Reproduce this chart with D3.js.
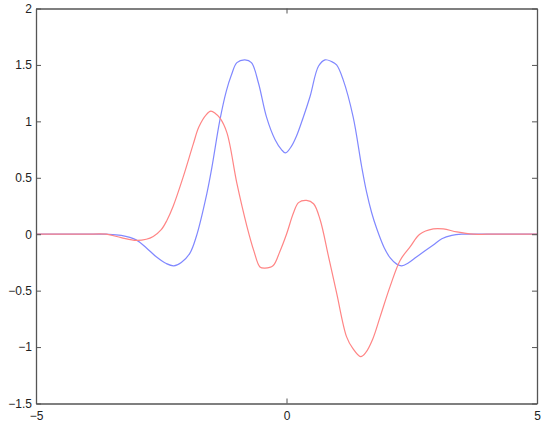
<!DOCTYPE html>
<html>
<head>
<meta charset="utf-8">
<script src="https://cdn.jsdelivr.net/npm/d3@7"></script>
<style>
  body { margin: 0; background: #fff; }
  text { font-family: "Liberation Sans", Arial, sans-serif; font-size: 12px; fill: #222; }
</style>
</head>
<body>
<svg id="chart" width="554" height="424"></svg>
<script>
var width = 554;
var height = 424;

// plot box in pixels (names avoid window.top etc.)
var boxLeft = 36, boxRight = 537, boxTop = 8.5, boxBottom = 403.5;

var xTicks = [-5, 0, 5];
var yTicks = [-1.5, -1, -0.5, 0, 0.5, 1, 1.5, 2];

// blue curve
var blueX = [-5, -4.5, -4, -3.6, -3.3, -3.0, -2.8, -2.6, -2.4, -2.25, -2.1, -1.93, -1.8, -1.59, -1.49, -1.33, -1.2, -1.1,
             -0.99, -0.83, -0.7, -0.56, -0.4, -0.23, -0.1, -0.02, 0.1, 0.2, 0.33, 0.47, 0.64, 0.77, 0.9, 1.0,
             1.13, 1.33, 1.5, 1.6, 1.7, 1.8, 1.95, 2.07, 2.2, 2.3, 2.43, 2.6, 2.93, 3.1, 3.3, 3.5, 4, 4.5, 5];
var blueY = [0, 0, 0, 0, -0.01, -0.05, -0.12, -0.2, -0.26, -0.28, -0.25, -0.17, -0.02, 0.36, 0.59, 1.01, 1.27, 1.41,
             1.52, 1.545, 1.52, 1.34, 1.04, 0.84, 0.75, 0.72, 0.78, 0.87, 1.03, 1.22, 1.49, 1.545, 1.53, 1.5,
             1.37, 1.04, 0.6, 0.37, 0.19, 0.05, -0.12, -0.21, -0.265, -0.28, -0.255, -0.2, -0.095, -0.04, -0.01, 0, 0, 0, 0];

// red curve
var redX = [-5, -4.5, -4, -3.6, -3.3, -3.0, -2.8, -2.66, -2.5, -2.39, -2.26, -2.06, -1.86, -1.75, -1.6, -1.51, -1.42, -1.33,
            -1.19, -0.99, -0.79, -0.65, -0.53, -0.43, -0.27, -0.13, 0.0, 0.14, 0.24, 0.4, 0.54, 0.67, 0.84, 1.0,
            1.2, 1.32, 1.48, 1.58, 1.72, 1.87, 2.07, 2.27, 2.47, 2.66, 2.93, 3.13, 3.4, 3.73, 4, 4.5, 5];
var redY = [0, 0, 0, 0, -0.03, -0.055, -0.045, -0.02, 0.04, 0.12, 0.25, 0.51, 0.8, 0.95, 1.06, 1.09, 1.07, 1.03,
            0.9, 0.45, 0.07, -0.15, -0.29, -0.3, -0.28, -0.15, 0.0, 0.19, 0.28, 0.3, 0.27, 0.13, -0.2, -0.52,
            -0.91, -1.01, -1.085, -1.05, -0.93, -0.73, -0.46, -0.23, -0.11, 0.0, 0.047, 0.047, 0.02, 0, 0, 0, 0];

var svg = d3.select("#chart");

var xScale = d3.scaleLinear().domain([-5, 5]).range([boxLeft, boxRight]);
var yScale = d3.scaleLinear().domain([-1.5, 2]).range([boxBottom, boxTop]);

var line = d3.line()
    .x(function(d) { return xScale(d[0]); })
    .y(function(d) { return yScale(d[1]); })
    .curve(d3.curveCatmullRom.alpha(0.5));

svg.append("path")
    .datum(d3.zip(blueX, blueY))
    .attr("d", line)
    .attr("fill", "none")
    .attr("stroke", "#8088ff")
    .attr("stroke-width", 1.2);

svg.append("path")
    .datum(d3.zip(redX, redY))
    .attr("d", line)
    .attr("fill", "none")
    .attr("stroke", "#ff8585")
    .attr("stroke-width", 1.2);

var fmt = function(d) { return d3.format("")(d).replace("-", "\u2212"); };

// axes with inward ticks, mirrored on the far sides
var axisColor = "#555";
svg.append("g")
    .attr("transform", "translate(0," + boxBottom + ")")
    .call(d3.axisBottom(xScale).tickValues(xTicks).tickSizeInner(-5).tickSizeOuter(0).tickPadding(8).tickFormat(fmt));
svg.append("g")
    .attr("transform", "translate(0," + boxTop + ")")
    .call(d3.axisTop(xScale).tickValues(xTicks).tickSizeInner(-5).tickSizeOuter(0).tickFormat(""));
svg.append("g")
    .attr("transform", "translate(" + boxLeft + ",0)")
    .call(d3.axisLeft(yScale).tickValues(yTicks).tickSizeInner(-5).tickSizeOuter(0).tickPadding(4).tickFormat(fmt));
svg.append("g")
    .attr("transform", "translate(" + boxRight + ",0)")
    .call(d3.axisRight(yScale).tickValues(yTicks).tickSizeInner(-5).tickSizeOuter(0).tickFormat(""));

svg.selectAll(".domain").attr("stroke", axisColor).attr("stroke-width", 1.3);
svg.selectAll(".tick line").attr("stroke", axisColor);
svg.selectAll(".tick text")
    .style("font-family", "'Liberation Sans', Arial, sans-serif")
    .style("font-size", "12px")
    .attr("fill", "#222");
</script>
</body>
</html>
